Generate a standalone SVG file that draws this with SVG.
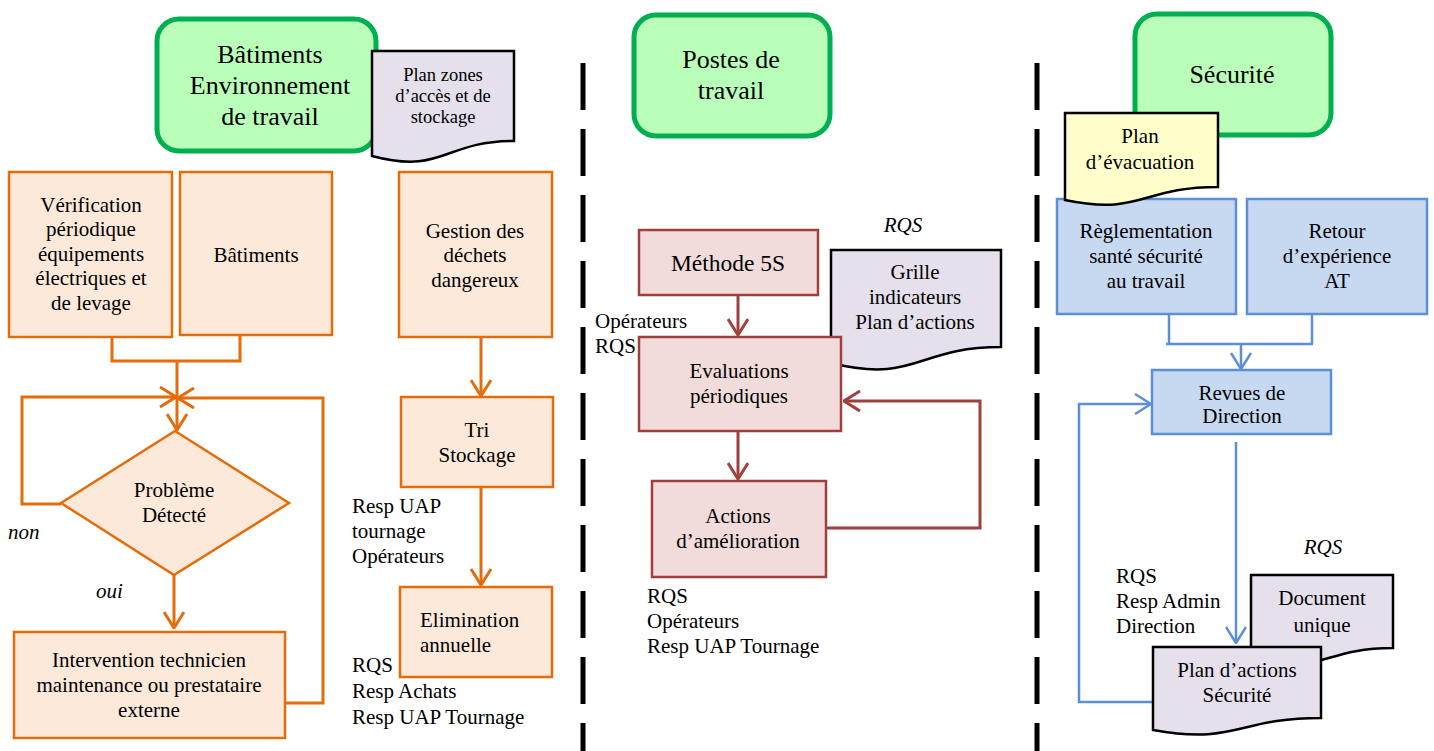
<svg xmlns="http://www.w3.org/2000/svg" width="1434" height="751" viewBox="0 0 1434 751">
<style>
text{font-family:"Liberation Serif","Times New Roman",serif;font-size:21px;fill:#000}
.c{text-anchor:middle}
.t{font-size:26px}
.i{font-style:italic}
.green{fill:#B9FFB9;stroke:#00B050;stroke-width:5}
.or{fill:#FDE9D9;stroke:#E46C0A;stroke-width:2.5}
.mr{fill:#F2DCDB;stroke:#A0403E;stroke-width:2.5}
.bl{fill:#C6D9F1;stroke:#5B8FD6;stroke-width:2.5}
.doc{fill:#E5E0EC;stroke:#000;stroke-width:2.5}
.ydoc{fill:#FFFFCC;stroke:#000;stroke-width:2.5}
.co{fill:none;stroke:#E46C0A;stroke-width:3}
.cm{fill:none;stroke:#A0403E;stroke-width:3}
.cb{fill:none;stroke:#5B8FD6;stroke-width:2.5}
.dash{stroke:#000;stroke-width:5;stroke-dasharray:47 19}
</style>
<defs>
<marker id="ao" markerUnits="userSpaceOnUse" viewBox="-1 -1 18 22" refX="16" refY="10" markerWidth="18" markerHeight="22" orient="auto"><path d="M0,0 L16,10 L0,20" fill="none" stroke="#E46C0A" stroke-width="3"/></marker>
<marker id="am" markerUnits="userSpaceOnUse" viewBox="-1 -1 18 22" refX="16" refY="10" markerWidth="18" markerHeight="22" orient="auto"><path d="M0,0 L16,10 L0,20" fill="none" stroke="#A0403E" stroke-width="3"/></marker>
<marker id="ab" markerUnits="userSpaceOnUse" viewBox="-1 -1 18 22" refX="16" refY="10" markerWidth="18" markerHeight="22" orient="auto"><path d="M0,0 L16,10 L0,20" fill="none" stroke="#5B8FD6" stroke-width="2.5"/></marker>
</defs>
<rect width="1434" height="751" fill="#fff"/>

<g id="separators">
<line class="dash" x1="583" y1="63" x2="583" y2="751"/>
<line class="dash" x1="1037" y1="63" x2="1037" y2="751"/>
</g>

<g id="connectors">
<path class="co" d="M112,337 V361 H240 V335"/>
<path class="co" d="M177,361 V430" marker-end="url(#ao)"/>
<path class="co" d="M61,504 H22 V397 H176" marker-end="url(#ao)"/>
<path class="co" d="M285,703 H323 V398 H178" marker-end="url(#ao)"/>
<path class="co" d="M174,575 V628" marker-end="url(#ao)"/>
<path class="co" d="M481,337 V396" marker-end="url(#ao)"/>
<path class="co" d="M481,487 V585" marker-end="url(#ao)"/>
<path class="cm" d="M738,295 V335" marker-end="url(#am)"/>
<path class="cm" d="M738,431 V479" marker-end="url(#am)"/>
<path class="cm" d="M826,528 H980 V401 H844" marker-end="url(#am)"/>
<path class="cb" d="M1169,314 V344 M1312,314 V344 M1166,344 H1313"/>
<path class="cb" d="M1241,344 V369" marker-end="url(#ab)"/>
<path class="cb" d="M1236,442 V643" marker-end="url(#ab)"/>
<path class="cb" d="M1153,702 H1079 V404 H1151" marker-end="url(#ab)"/>
</g>

<g id="n-batiments-env">
<rect class="green" x="157" y="19" width="219" height="132" rx="22"/>
<text class="c t" x="270" y="63">Bâtiments</text>
<text class="c t" x="270" y="94">Environnement</text>
<text class="c t" x="270" y="125">de travail</text>
</g>
<g id="n-plan-zones">
<path class="doc" d="M372,51 H514 V141 C443,141 443,175 372,156 Z"/>
<text class="c" style="font-size:18.5px" x="443" y="81">Plan zones</text>
<text class="c" style="font-size:18.5px" x="443" y="102">d’accès et de</text>
<text class="c" style="font-size:18.5px" x="443" y="123">stockage</text>
</g>
<g id="n-verification">
<rect class="or" x="9" y="172" width="163" height="165"/>
<text class="c" x="91" y="212">Vérification</text>
<text class="c" x="91" y="236">périodique</text>
<text class="c" x="91" y="261">équipements</text>
<text class="c" x="91" y="285">électriques et</text>
<text class="c" x="91" y="310">de levage</text>
</g>
<g id="n-batiments">
<rect class="or" x="180" y="172" width="152" height="163"/>
<text class="c" x="256" y="262">Bâtiments</text>
</g>
<g id="n-gestion">
<rect class="or" x="399" y="172" width="153" height="165"/>
<text class="c" x="475" y="238">Gestion des</text>
<text class="c" x="475" y="262">déchets</text>
<text class="c" x="475" y="287">dangereux</text>
</g>
<g id="n-probleme">
<polygon class="or" points="175,431 289,503 174,575 61,503"/>
<text class="c" x="174" y="497">Problème</text>
<text class="c" x="174" y="522">Détecté</text>
</g>
<g id="lbl-non-oui">
<text class="i" x="8" y="539">non</text>
<text class="i" x="96" y="598">oui</text>
</g>
<g id="n-intervention">
<rect class="or" x="14" y="632" width="271" height="106"/>
<text class="c" x="149" y="667">Intervention technicien</text>
<text class="c" x="149" y="692">maintenance ou prestataire</text>
<text class="c" x="149" y="717">externe</text>
</g>
<g id="n-tri">
<rect class="or" x="401" y="397" width="152" height="90"/>
<text class="c" x="477" y="437">Tri</text>
<text class="c" x="477" y="462">Stockage</text>
</g>
<g id="lbl-tri">
<text x="352" y="513">Resp UAP</text>
<text x="352" y="538">tournage</text>
<text x="352" y="563">Opérateurs</text>
</g>
<g id="n-elimination">
<rect class="or" x="400" y="587" width="152" height="90"/>
<text x="420" y="627">Elimination</text>
<text x="420" y="652">annuelle</text>
</g>
<g id="lbl-elim">
<text x="352" y="672">RQS</text>
<text x="352" y="698">Resp Achats</text>
<text x="352" y="724">Resp UAP Tournage</text>
</g>

<g id="n-postes">
<rect class="green" x="634" y="15" width="196" height="121" rx="22"/>
<text class="c t" x="731" y="68">Postes de</text>
<text class="c t" x="731" y="99">travail</text>
</g>
<g id="n-methode">
<rect class="mr" x="639" y="230" width="179" height="65"/>
<text class="c" style="font-size:23.5px" x="728" y="271">Méthode 5S</text>
</g>
<g id="n-grille">
<text class="c i" x="903" y="232">RQS</text>
<path class="doc" d="M831,250 H1001 V347 C916,347 916,384 831,363 Z"/>
<text class="c" x="915" y="279">Grille</text>
<text class="c" x="915" y="304">indicateurs</text>
<text class="c" x="915" y="329">Plan d’actions</text>
</g>
<g id="lbl-eval">
<text x="595" y="328">Opérateurs</text>
<text x="595" y="353">RQS</text>
</g>
<g id="n-evaluations">
<rect class="mr" x="639" y="337" width="202" height="94"/>
<text class="c" x="739" y="378">Evaluations</text>
<text class="c" x="739" y="403">périodiques</text>
</g>
<g id="n-actions">
<rect class="mr" x="652" y="481" width="174" height="96"/>
<text class="c" x="738" y="523">Actions</text>
<text class="c" x="738" y="548">d’amélioration</text>
</g>
<g id="lbl-actions">
<text x="647" y="603">RQS</text>
<text x="647" y="628">Opérateurs</text>
<text x="647" y="653">Resp UAP Tournage</text>
</g>

<g id="n-securite">
<rect class="green" x="1135" y="14" width="196" height="121" rx="22"/>
<text class="c t" x="1232" y="83">Sécurité</text>
</g>
<g id="n-reglementation">
<rect class="bl" x="1057" y="199" width="179" height="115"/>
<text class="c" x="1146" y="238">Règlementation</text>
<text class="c" x="1146" y="263">santé sécurité</text>
<text class="c" x="1146" y="288">au travail</text>
</g>
<g id="n-plan-evac">
<path class="ydoc" d="M1065,113 H1218 V187 C1141,187 1141,216 1065,200 Z"/>
<text class="c" x="1140" y="143">Plan</text>
<text class="c" x="1140" y="169">d’évacuation</text>
</g>
<g id="n-retour">
<rect class="bl" x="1247" y="199" width="180" height="115"/>
<text class="c" x="1337" y="238">Retour</text>
<text class="c" x="1337" y="263">d’expérience</text>
<text class="c" x="1337" y="288">AT</text>
</g>
<g id="n-revues">
<rect class="bl" x="1152" y="370" width="179" height="64"/>
<text class="c" x="1242" y="400">Revues de</text>
<text class="c" x="1242" y="423">Direction</text>
</g>
<g id="lbl-plan-actions">
<text x="1116" y="583">RQS</text>
<text x="1116" y="608">Resp Admin</text>
<text x="1116" y="633">Direction</text>
</g>
<g id="n-document-unique">
<text class="c i" x="1323" y="554">RQS</text>
<path class="doc" d="M1251,575 H1393 V648 C1322,648 1322,676 1251,660 Z"/>
<text class="c" x="1322" y="605">Document</text>
<text class="c" x="1322" y="632">unique</text>
</g>
<g id="n-plan-actions-securite">
<path class="doc" d="M1153,647 H1321 V718 C1237,718 1237,745 1153,730 Z"/>
<text class="c" x="1237" y="677">Plan d’actions</text>
<text class="c" x="1237" y="702">Sécurité</text>
</g>
</svg>
